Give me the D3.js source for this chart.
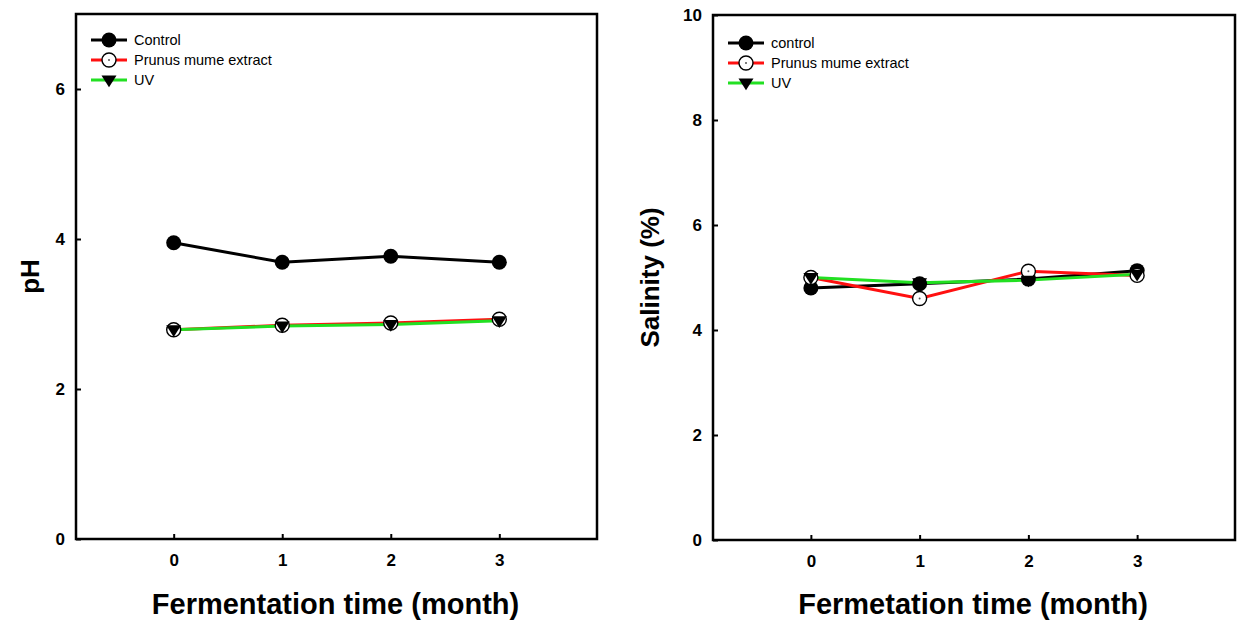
<!DOCTYPE html>
<html>
<head>
<meta charset="utf-8">
<script src="https://cdn.jsdelivr.net/npm/d3@7"></script>
<style>
  html, body { margin: 0; padding: 0; background: #fff; }
  svg { display: block; font-family: "Liberation Sans", Arial, sans-serif; }
</style>
</head>
<body>
<svg id="chart" width="1239" height="622"></svg>
<script>
// Fermentation months
const months = [0, 1, 2, 3];

// pH by treatment
const phControl = [3.95, 3.69, 3.77, 3.69];
const phPrunus  = [2.79, 2.85, 2.88, 2.93];
const phUV      = [2.79, 2.84, 2.86, 2.91];

// Salinity (%) by treatment
const salControl = [4.80, 4.88, 4.97, 5.13];
const salPrunus  = [5.00, 4.60, 5.12, 5.04];
const salUV      = [5.00, 4.90, 4.95, 5.06];

const xTicks = [0, 1, 2, 3];
const phTicks = [0, 2, 4, 6];
const salTicks = [0, 2, 4, 6, 8, 10];

const seriesStyle = [
  { key: "control", color: "#000000", marker: "filled" },
  { key: "prunus",  color: "#ff1010", marker: "open" },
  { key: "uv",      color: "#22e022", marker: "triangle" }
];

const svg = d3.select("#chart");

function drawPanel(cfg) {
  const g = svg.append("g");
  const x = d3.scaleLinear().domain([-0.9, 3.9]).range([cfg.left, cfg.right]);
  const y = d3.scaleLinear().domain(cfg.yDomain).range([cfg.bottom, cfg.top]);

  // axes with inward ticks
  const xAxis = d3.axisBottom(x).tickValues(xTicks).tickSize(-5).tickPadding(15).tickFormat(d3.format("d"));
  const yAxis = d3.axisLeft(y).tickValues(cfg.yTicks).tickSize(-5).tickPadding(11).tickFormat(d3.format("d"));

  const gx = g.append("g").attr("transform", `translate(0,${cfg.bottom})`).call(xAxis);
  const gy = g.append("g").attr("transform", `translate(${cfg.left},0)`).call(yAxis);
  [gx, gy].forEach(a => {
    a.select(".domain").remove();
    a.selectAll(".tick line").attr("stroke", "#000").attr("stroke-width", 2);
    a.selectAll(".tick text").attr("fill", "#000").attr("font-size", 17).attr("font-weight", "bold")
      .attr("font-family", "'Liberation Sans', Arial, sans-serif");
  });

  // frame
  g.append("rect")
    .attr("x", cfg.left).attr("y", cfg.top)
    .attr("width", cfg.right - cfg.left).attr("height", cfg.bottom - cfg.top)
    .attr("fill", "none").attr("stroke", "#000").attr("stroke-width", 2.5);

  const line = d3.line().x((d, i) => x(months[i])).y(d => y(d));

  // lines first, then markers on top (drawn in series order)
  cfg.series.forEach((vals, si) => {
    g.append("path").datum(vals)
      .attr("d", line)
      .attr("fill", "none")
      .attr("stroke", seriesStyle[si].color)
      .attr("stroke-width", 3);
  });
  cfg.series.forEach((vals, si) => {
    vals.forEach((v, i) => drawMarker(g, x(months[i]), y(v), seriesStyle[si].marker));
  });

  // legend
  cfg.legend.forEach((label, i) => {
    const ly = cfg.legendY + i * 20;
    g.append("line")
      .attr("x1", cfg.legendX).attr("x2", cfg.legendX + 36)
      .attr("y1", ly).attr("y2", ly)
      .attr("stroke", seriesStyle[i].color).attr("stroke-width", 3);
    drawMarker(g, cfg.legendX + 18, ly, seriesStyle[i].marker);
    g.append("text")
      .attr("x", cfg.legendX + 43).attr("y", ly + 5)
      .attr("font-size", 14.5).attr("fill", "#000")
      .text(label);
  });

  // axis titles
  g.append("text")
    .attr("transform", `translate(${cfg.yTitleX},${(cfg.top + cfg.bottom) / 2}) rotate(-90)`)
    .attr("text-anchor", "middle")
    .attr("font-size", 26).attr("font-weight", "bold")
    .text(cfg.yTitle);
  g.append("text")
    .attr("x", (cfg.left + cfg.right) / 2 - 1).attr("y", 614)
    .attr("text-anchor", "middle")
    .attr("font-size", 29).attr("font-weight", "bold")
    .text(cfg.xTitle);
}

function drawMarker(g, cx, cy, type) {
  if (type === "filled") {
    g.append("circle").attr("cx", cx).attr("cy", cy).attr("r", 7.5).attr("fill", "#000");
  } else if (type === "open") {
    g.append("circle").attr("cx", cx).attr("cy", cy).attr("r", 7)
      .attr("fill", "#fff").attr("stroke", "#000").attr("stroke-width", 1.4);
    g.append("circle").attr("cx", cx).attr("cy", cy).attr("r", 1).attr("fill", "#555");
  } else {
    const s = 7.5;
    g.append("path")
      .attr("d", `M${cx - s},${cy - s * 0.6}L${cx + s},${cy - s * 0.6}L${cx},${cy + s * 0.95}Z`)
      .attr("fill", "#000");
  }
}

drawPanel({
  left: 76, right: 597, top: 14, bottom: 539,
  yDomain: [0, 7], yTicks: phTicks,
  series: [phControl, phPrunus, phUV],
  legend: ["Control", "Prunus mume extract", "UV"],
  legendX: 91, legendY: 40,
  yTitle: "pH", yTitleX: 39,
  xTitle: "Fermentation time (month)"
});

drawPanel({
  left: 713, right: 1235, top: 15, bottom: 540,
  yDomain: [0, 10], yTicks: salTicks,
  series: [salControl, salPrunus, salUV],
  legend: ["control", "Prunus mume extract", "UV"],
  legendX: 728, legendY: 43,
  yTitle: "Salinity (%)", yTitleX: 659,
  xTitle: "Fermetation time (month)"
});
</script>
</body>
</html>
